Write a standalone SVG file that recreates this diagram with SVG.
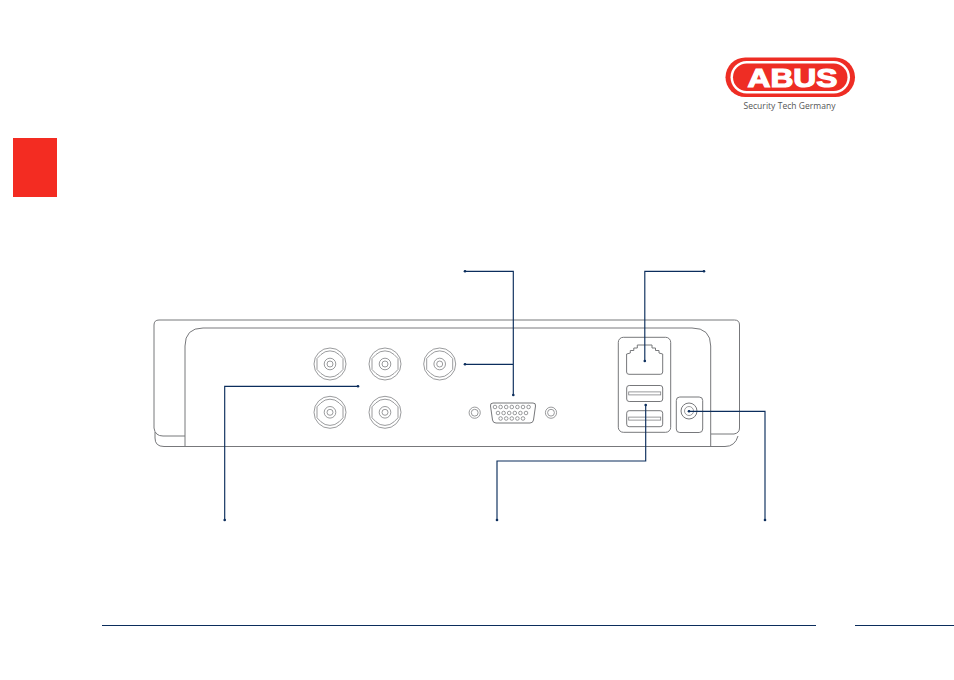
<svg xmlns="http://www.w3.org/2000/svg" width="954" height="680" viewBox="0 0 954 680">
<style>
.d{fill:none;stroke:#77787b;stroke-width:1}
.t{fill:none;stroke:#808184;stroke-width:.8}
.c{fill:none;stroke:#0b2d5c;stroke-width:1.150}
.e{fill:#0b2d5c}
.r{stroke:#0b2d5c;stroke-width:1;fill:none}
</style>
<defs>
<g id="bnc">
<circle r="16" class="t"/>
<path d="M-9-9.500A13 13 0 0 1 9-9.500L13-5.500V5.500L9 9.500A13 13 0 0 1-9 9.500L-13 5.500V-5.500Z" class="t"/>
<circle r="5.800" class="t"/>
<circle r="3" class="t"/>
</g>
<g id="screw"><circle r="5.600" class="t"/><circle r="3.400" class="t"/></g>
<g id="usb"><rect x="-18" y="-8" width="36" height="16" rx="2.500" class="d"/><rect x="-16" y="-1.600" width="32" height="3" class="t"/></g>
</defs>
<rect id="side-tab" x="13" y="138" width="44" height="59" fill="#f32c22"/>
<g id="logo">
<rect x="725.500" y="57.500" width="129.500" height="39.500" rx="19.750" fill="#ee2d24"/>
<rect x="730.500" y="61" width="119.500" height="32.500" rx="16.250" fill="#fff"/>
<rect x="733" y="63.500" width="114.500" height="27.500" rx="13.750" fill="#ee2d24"/>
<text x="792.500" y="86.700" text-anchor="middle" font-family="'Liberation Sans',sans-serif" font-weight="700" font-size="26.500" textLength="90" lengthAdjust="spacingAndGlyphs" fill="#fff" stroke="#fff" stroke-width="1.200">ABUS</text>
<text x="789.500" y="109" text-anchor="middle" font-family="'Open Sans','Liberation Sans',sans-serif" font-size="8.500" textLength="92" fill="#555">Security Tech Germany</text>
</g>
<g id="device">
<path class="d" d="M185 436H163Q155 436 154 428V325Q154 320 159 320H734.500Q739.500 320 739.500 325V428Q739.500 433 734 434H711"/>
<path class="d" d="M155 432V438Q155 446.500 164 446.500H725Q735 446.500 738 436"/>
<path d="M185 446.500V346Q185 328 203 328H692Q710.700 328 710.700 346V446.500" fill="none" stroke="#77787b"/>
<path d="M203 328H692" fill="none" stroke="#bcbdbf" stroke-width="1.600"/>
</g>
<g id="bnc-ports">
<use href="#bnc" x="330" y="364"/>
<use href="#bnc" x="385" y="364"/>
<use href="#bnc" x="439.700" y="364"/>
<use href="#bnc" x="330" y="412.300"/>
<use href="#bnc" x="385" y="412.300"/>
</g>
<g id="vga-port">
<use href="#screw" x="474.700" y="412.700"/>
<use href="#screw" x="551" y="412.700"/>
<path class="d" d="M493 403H533Q536 403 535.500 406L533.500 420Q533 423 530 423H496Q493 423 492.500 420L490.500 406Q490 403 493 403Z"/>
<g class="t">
<circle cx="495" cy="407" r="1.800" class="t"/><circle cx="500.600" cy="407" r="1.800" class="t"/><circle cx="506.200" cy="407" r="1.800" class="t"/><circle cx="511.800" cy="407" r="1.800" class="t"/><circle cx="517.400" cy="407" r="1.800" class="t"/><circle cx="523" cy="407" r="1.800" class="t"/><circle cx="528.600" cy="407" r="1.800" class="t"/>
<circle cx="498" cy="413" r="1.800" class="t"/><circle cx="503.600" cy="413" r="1.800" class="t"/><circle cx="509.200" cy="413" r="1.800" class="t"/><circle cx="514.800" cy="413" r="1.800" class="t"/><circle cx="520.400" cy="413" r="1.800" class="t"/><circle cx="526" cy="413" r="1.800" class="t"/>
<circle cx="500.600" cy="418.500" r="1.800" class="t"/><circle cx="506.200" cy="418.500" r="1.800" class="t"/><circle cx="511.800" cy="418.500" r="1.800" class="t"/><circle cx="517.400" cy="418.500" r="1.800" class="t"/><circle cx="523" cy="418.500" r="1.800" class="t"/>
</g>
</g>
<g id="network-usb-panel">
<rect x="618.300" y="337.300" width="52.400" height="95" rx="5" class="d"/>
<path class="d" d="M626.600 354V372Q626.600 374.300 629 374.300H660.300Q662.700 374.300 662.700 372V354L659 353V350.500H655.500V348H652V345H637.300V348H633.800V350.500H630.300V353Z"/>
<use href="#usb" x="644.700" y="393.500"/>
<use href="#usb" x="644.700" y="418.700"/>
</g>
<g id="power-port">
<rect x="676.300" y="397" width="26.400" height="35.500" rx="3.500" class="d"/>
<circle cx="689" cy="411" r="8" class="d"/>
<circle cx="689" cy="411" r="4.500" class="t"/>
</g>
<g id="connectors">
<path class="c" d="M465 271.300H513.300V395M465 364.300H513.300"/>
<path class="c" d="M704 271.300H644.800V361"/>
<path class="c" d="M224.700 520V386.300H358"/>
<path class="c" d="M497 520V461H645.700V405"/>
<path class="c" d="M765 520V411.300H689"/>
<g class="e">
<circle cx="465" cy="271.300" r="1.300"/><circle cx="513.300" cy="395" r="1.300"/><circle cx="465" cy="364.300" r="1.300"/>
<circle cx="704" cy="271.300" r="1.300"/><circle cx="644.800" cy="361" r="1.300"/>
<circle cx="224.700" cy="520" r="1.300"/><circle cx="358" cy="386.300" r="1.300"/>
<circle cx="497" cy="520" r="1.300"/><circle cx="645.700" cy="405" r="1.300"/>
<circle cx="765" cy="520" r="1.300"/><circle cx="689" cy="411.300" r="1.300"/>
</g>
</g>
<g id="footer-rules">
<path class="r" d="M102 625.500H816M855 625.500H954"/>
</g>
</svg>
